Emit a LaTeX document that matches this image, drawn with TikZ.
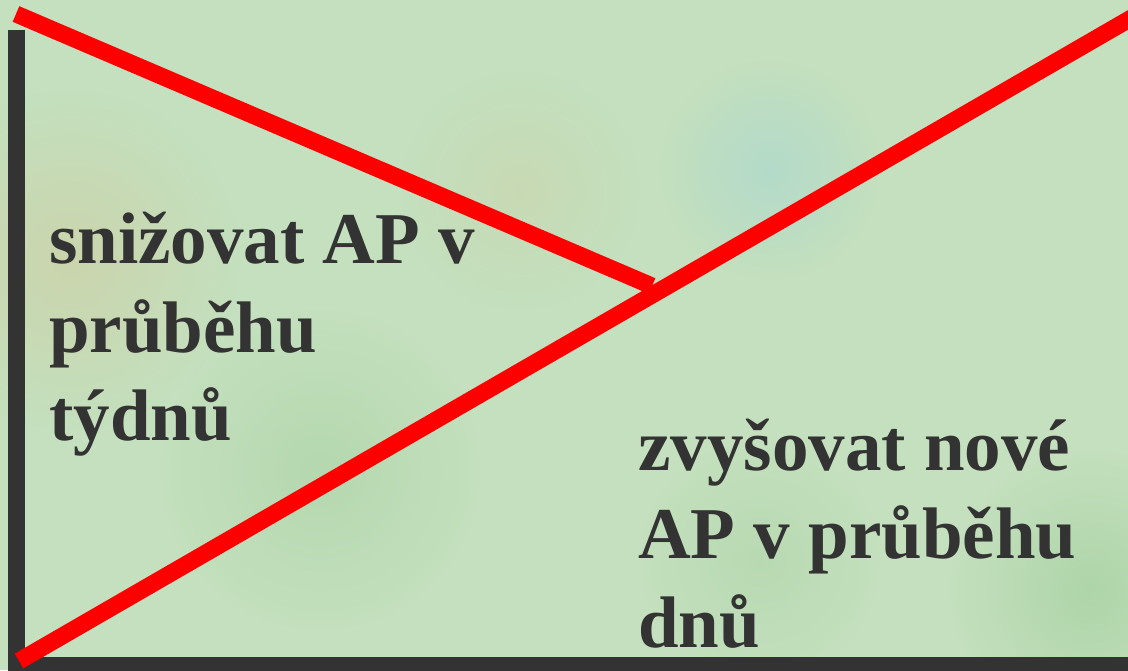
\documentclass[tikz,border=0pt]{standalone}
\usepackage{fontspec}
\setmainfont{Liberation Serif}
\usetikzlibrary{fadings}
\definecolor{bgbase}{RGB}{196,224,190}
\definecolor{bgtan}{RGB}{205,208,165}
\definecolor{bgblue}{RGB}{172,216,206}
\definecolor{bggreen}{RGB}{165,208,160}
\definecolor{axisgray}{RGB}{51,51,51}
\definecolor{linered}{RGB}{255,0,0}
\tikzfading[name=softblob, inner color=transparent!0, outer color=transparent!100]
\tikzset{
  axisline/.style={draw=axisgray, line width=17pt, line join=miter},
  redline/.style={draw=linered, line width=17pt, line cap=butt},
  label/.style={anchor=base west, inner sep=0pt, text=axisgray,
                font=\fontsize{73}{88}\selectfont\bfseries},
  blob/.style={path fading=softblob, opacity=0.7}
}
\begin{document}
\begin{tikzpicture}[x=1pt,y=-1pt]
\useasboundingbox (0,0) rectangle (1128,670);
% background
\fill[bgbase] (0,0) rectangle (1128,670);
\fill[bgtan, blob] (70,260) circle (170);
\fill[bgtan, blob, opacity=0.4] (520,190) circle (120);
\fill[bgblue, blob] (770,170) circle (110);
\fill[bggreen, blob, opacity=0.5] (320,470) circle (160);
\fill[bggreen, blob] (1090,590) circle (140);
\fill[bggreen, blob, opacity=0.4] (760,560) circle (120);
% coordinates
\coordinate (top)    at (16.5,30);
\coordinate (origin) at (16.5,665);
\coordinate (xend)   at (1140,665);
\coordinate (aStart) at (16,14);
\coordinate (aEnd)   at (652,286);
\coordinate (bStart) at (19,661);
\coordinate (bEnd)   at (1140,13);
% axes
\draw[axisline] (top) -- (origin) -- (xend);
% red lines
\draw[redline] (aStart) -- (aEnd);
\draw[redline] (bStart) -- (bEnd);
% texts
\node[label] (l1) at (49,263) {snižovat AP v};
\node[label] (l2) at (49,352) {průběhu};
\node[label] (l3) at (49,440) {týdnů};
\node[label] (r1) at (638,470) {zvyšovat nové};
\node[label] (r2) at (638,558) {AP v průběhu};
\node[label] (r3) at (638,647) {dnů};
\end{tikzpicture}
\end{document}
